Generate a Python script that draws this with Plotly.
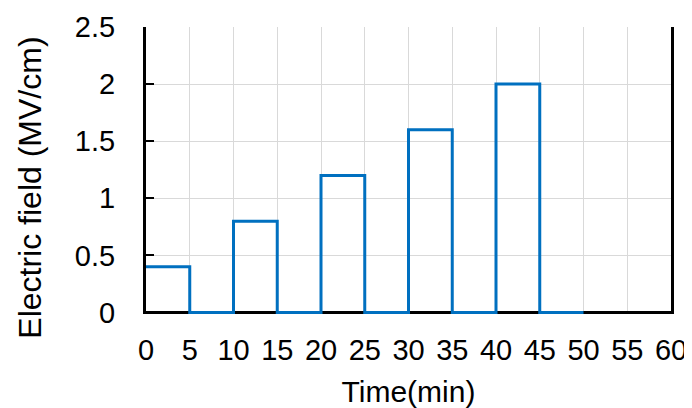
import plotly.graph_objects as go

time_min = [0, 5, 10, 15, 20, 25, 30, 35, 40, 45, 50]
field_mv_cm = [0.4, 0, 0.8, 0, 1.2, 0, 1.6, 0, 2.0, 0, 0]
x_ticks = [0, 5, 10, 15, 20, 25, 30, 35, 40, 45, 50, 55, 60]
y_ticks = [0, 0.5, 1, 1.5, 2, 2.5]
y_tick_labels = ["0", "0.5", "1", "1.5", "2", "2.5"]

fig = go.Figure()
fig.add_trace(go.Scatter(
    x=time_min, y=field_mv_cm, mode="lines", line_shape="hv",
    line=dict(color="#0070C0", width=3), showlegend=False,
))

FAM = "Liberation Sans, Arial, sans-serif"
tick_font = dict(family=FAM, size=29, color="black")
xtitle_font = dict(family=FAM, size=30, color="black")
ytitle_font = dict(family=FAM, size=32, color="black")
fig.update_layout(
    width=692, height=408,
    margin=dict(l=138, r=29, t=19, b=102),
    paper_bgcolor="white", plot_bgcolor="white",
    font=tick_font,
    xaxis=dict(
        range=[0, 60], tickvals=x_ticks, ticktext=[str(v) for v in x_ticks],
        showgrid=True, gridcolor="#D9D9D9", gridwidth=1,
        showline=False, ticks="", zeroline=False, automargin=False,
        ticklabelstandoff=16,
        title=dict(text="Time(min)", font=xtitle_font, standoff=15),
        tickfont=tick_font,
    ),
    xaxis2=dict(overlaying="x", side="top", range=[0, 60], showline=True,
                linecolor="black", linewidth=3, showgrid=False,
                showticklabels=False, ticks="", zeroline=False),
    yaxis=dict(
        range=[-0.0131, 2.5], tickvals=y_ticks, ticktext=y_tick_labels,
        showgrid=True, gridcolor="#D9D9D9", gridwidth=1,
        showline=True, linecolor="black", linewidth=3, mirror=True,
        ticks="inside", ticklen=8, tickcolor="black", tickwidth=1.5,
        zeroline=True, zerolinecolor="black", zerolinewidth=3,
        automargin=False, ticklabelstandoff=22,
        tickfont=tick_font,
    ),
    annotations=[dict(text="Electric field (MV/cm)", xref="paper", yref="paper",
                      x=-0.221, y=0.44, xanchor="center", yanchor="middle",
                      textangle=-90, showarrow=False, font=ytitle_font)],
)
fig.write_html("out.html")
